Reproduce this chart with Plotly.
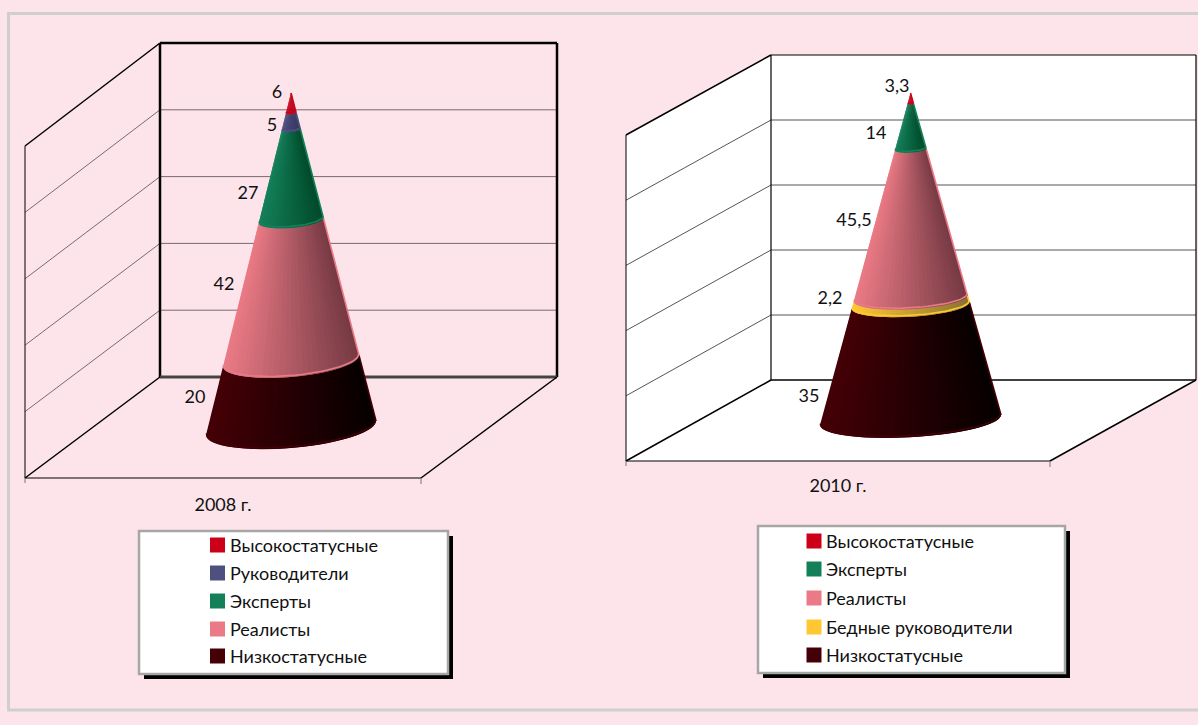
import math
import plotly.graph_objects as go

# ---- data ----
years = ["2008 г.", "2010 г."]
cats_2008 = ["Низкостатусные", "Реалисты", "Эксперты", "Руководители", "Высокостатусные"]
vals_2008 = [20, 42, 27, 5, 6]
labels_2008 = ["20", "42", "27", "5", "6"]
cats_2010 = ["Низкостатусные", "Бедные руководители", "Реалисты", "Эксперты", "Высокостатусные"]
vals_2010 = [35, 2.2, 45.5, 14, 3.3]
labels_2010 = ["35", "2,2", "45,5", "14", "3,3"]

# ---- styles (left colour, right colour) ----
SHADE = {
    "Высокостатусные": ("#CC0018", "#B00018"),
    "Руководители": ("#4E507F", "#33345E"),
    "Эксперты": ("#14805A", "#004A2A"),
    "Реалисты": ("#EA7A85", "#763A44"),
    "Бедные руководители": ("#FFC832", "#8A7232"),
    "Низкостатусные": ("#440006", "#060000"),
}
BG = "#FCE4EA"
FONT = "Lato, Noto Sans, sans-serif"
FONT_SIZE = 18
N = 36


def rgb(h):
    return [int(h[i:i + 2], 16) for i in (1, 3, 5)]


def mix(a, b, t):
    a, b = rgb(a), rgb(b)
    return "rgb(%d,%d,%d)" % tuple(round(a[i] + (b[i] - a[i]) * t) for i in range(3))


fig = go.Figure()
shapes = []


def line(x0, y0, x1, y1, color="#000000", width=1):
    shapes.append(dict(type="line", x0=x0, y0=y0, x1=x1, y1=y1, layer="below",
                       line=dict(color=color, width=width)))


def walls(bx0, bx1, by0, by1, fx0, fx1, fy, side_top, fill, floor_fill, grid_color, edge, base_col, base_w):
    if fill:
        shapes.append(dict(type="rect", x0=bx0, x1=bx1, y0=by0, y1=by1, layer="below",
                           fillcolor=fill, line=dict(width=0)))
        shapes.append(dict(type="path", layer="below", fillcolor=fill, line=dict(width=0),
                           path=f"M{fx0},{fy} L{fx0},{side_top} L{bx0},{by0} L{bx0},{by1} Z"))
    if floor_fill:
        shapes.append(dict(type="path", layer="below", fillcolor=floor_fill, line=dict(width=0),
                           path=f"M{fx0},{fy} L{fx1},{fy} L{bx1},{by1} L{bx0},{by1} Z"))
    for k in range(1, 5):
        y = by1 - (by1 - by0) * k / 5
        ys = fy - (fy - side_top) * k / 5
        line(bx0, y, bx1, y, grid_color, 1)
        line(fx0, ys, bx0, y, grid_color, 1)
    line(bx0, by0, bx1, by0, "#000000", edge)
    line(bx1, by0, bx1, by1, "#000000", edge)
    line(bx0, by0, bx0, by1, "#000000", edge)
    line(bx0, by1, bx1, by1, base_col, base_w)
    line(fx0, side_top, bx0, by0, "#000000", 1.5)
    line(fx0, side_top, fx0, fy, "#000000", 1)
    line(fx0, fy, bx0, by1, "#000000", 1.5)
    line(fx0, fy, fx1, fy, "#000000", 1)
    line(fx1, fy, bx1, by1, "#000000", 1.5)
    line(fx0, fy, fx0, fy + 5, "#777777", 1)
    line(fx1, fy, fx1, fy + 6, "#777777", 1)


def cone(cats, vals, apex_x, apex_y, base_y, radius, tilt, k):
    total = sum(vals)
    height = base_y - apex_y

    def pt(f, th):
        r = radius * (1 - f)
        cy = base_y - f * height
        return apex_x + r * math.cos(th), cy + r * (-tilt * math.cos(th) + k * math.sin(th))

    f0 = 0.0
    for cat, val in zip(cats, vals):
        f1 = f0 + val / total
        c_left, c_right = SHADE[cat]
        for j in range(N):
            # each slat reaches under the next one so no seams show
            steps = [math.pi - math.pi * m / N for m in range(j, min(j + 3, N + 1))]
            low = [pt(f0, t) for t in steps]
            up = [pt(f1, t) for t in reversed(steps)]
            poly = low + up + low[:1]
            col = mix(c_left, c_right, (1 - math.cos(math.pi * (j + .5) / N)) / 2)
            fig.add_trace(go.Scatter(
                x=[p[0] for p in poly], y=[p[1] for p in poly],
                mode="lines", fill="toself", fillcolor=col,
                line=dict(width=0), showlegend=False, hoverinfo="skip"))
        ths = [math.pi * i / 40 for i in range(41)]
        rim = [pt(f0 + 0.004, t) for t in ths]
        fig.add_trace(go.Scatter(x=[p[0] for p in rim], y=[p[1] for p in rim], mode="lines",
                                 line=dict(color=c_left, width=1.6), showlegend=False, hoverinfo="skip"))
        r0, r1 = pt(f0, 0), pt(f1, 0)
        fig.add_trace(go.Scatter(x=[r0[0], r1[0]], y=[r0[1], r1[1]], mode="lines",
                                 line=dict(color=c_left, width=1.6), showlegend=False, hoverinfo="skip"))
        f0 = f1


def legend_box(x0, y0, x1, y1, cats, sw_x, text_x, rows):
    shapes.append(dict(type="rect", x0=x0 + 5, y0=y0 + 5, x1=x1 + 5, y1=y1 + 5, layer="below",
                       fillcolor="#000000", line=dict(width=0)))
    shapes.append(dict(type="rect", x0=x0, y0=y0, x1=x1, y1=y1, layer="below",
                       fillcolor="#FFFFFF", line=dict(color="#A6A6A6", width=2.5)))
    fig.add_trace(go.Scatter(
        x=[sw_x] * len(cats), y=rows, mode="markers", showlegend=False, hoverinfo="skip",
        marker=dict(symbol="square", size=15, color=[SHADE[c][0] for c in cats], line=dict(width=0))))
    fig.add_trace(go.Scatter(
        x=[text_x] * len(cats), y=[r + 2 for r in rows], mode="text", text=cats, textposition="middle right",
        textfont=dict(family=FONT, size=FONT_SIZE, color="#111111"), showlegend=False, hoverinfo="skip"))


def labels(xs, ys, txt):
    fig.add_trace(go.Scatter(x=xs, y=ys, mode="text", text=txt, textposition="middle center",
                             textfont=dict(family=FONT, size=FONT_SIZE, color="#111111"),
                             showlegend=False, hoverinfo="skip"))


walls(160, 557, 43, 377, 25, 421, 478, 146, None, None, "#7a6a70", 2.5, "#444444", 3)
walls(771, 1196, 55, 380, 626, 1050, 461, 135, "#FFFFFF", "#FFFFFF", "#555555", 1.2, "#000000", 1.5)

cone(cats_2008, vals_2008, 291, 93, 428, 85, 0.082, 0.235)
cone(cats_2010, vals_2010, 910.5, 93, 420, 90.5, 0.055, 0.19)

labels([195, 224, 248, 272, 277], [398, 285, 194, 126, 93], labels_2008)
labels([809, 830, 854, 876, 897], [397, 299, 221, 134, 87], labels_2010)
labels([223, 838], [506, 487], years)

legend_box(139, 531, 448, 674, cats_2008[::-1], 217.5, 230, [545, 573, 601, 629, 656])
legend_box(758, 526, 1065, 673, cats_2010[::-1], 814, 826, [541, 569, 598, 627, 655])

shapes.append(dict(type="rect", x0=8.5, y0=13.5, x1=1215, y1=710, layer="below",
                   fillcolor="rgba(0,0,0,0)", line=dict(color="#CFCFCF", width=3)))

fig.update_layout(
    width=1198, height=725, margin=dict(l=0, r=0, t=0, b=0),
    paper_bgcolor=BG, plot_bgcolor=BG, shapes=shapes, showlegend=False,
    xaxis=dict(range=[0, 1198], visible=False, fixedrange=True),
    yaxis=dict(range=[725, 0], visible=False, fixedrange=True),
)
fig.write_html("out.html", config={"displayModeBar": False},
               post_script="document.body.style.margin='0';document.body.style.background='%s';" % BG)
